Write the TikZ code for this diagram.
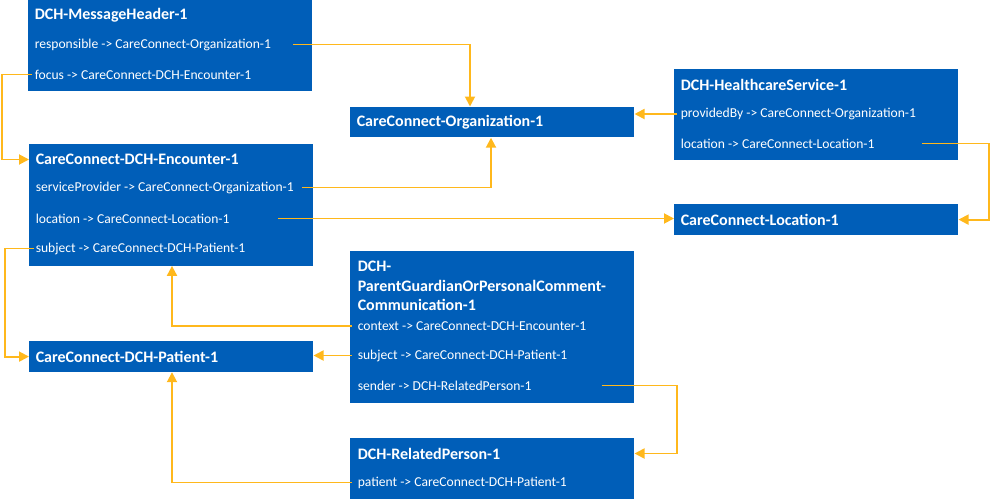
\documentclass[tikz,border=0pt]{standalone}
\usepackage{fontspec}
\setmainfont{Carlito}
\usetikzlibrary{arrows.meta,calc}
\definecolor{nhsblue}{HTML}{005EB8}
\definecolor{linkc}{HTML}{FFB81C}
\begin{document}
\begin{tikzpicture}[x=0.75pt,y=-0.75pt,
  box/.style={fill=nhsblue, draw=none, anchor=north west, inner sep=0pt, minimum width=213pt},
  ttl/.style={anchor=west, text=white, font=\fontsize{12}{14}\selectfont\bfseries, inner xsep=0pt, inner ysep=1.5pt},
  row/.style={anchor=west, text=white, font=\fontsize{10.2}{12}\selectfont, inner xsep=0pt, inner ysep=1.5pt},
  link/.style={draw=linkc, line width=1.4pt, -{Triangle[length=7.5pt,width=7.5pt]}}]
\useasboundingbox (0,0) rectangle (993,500);
% boxes
\node[box, minimum height=68.25pt] (mh) at (28,0) {};
\node[box, minimum height=23pt] (org) at (350,106.5) {};
\node[box, minimum height=68.25pt] (hs) at (674,69) {};
\node[box, minimum height=91pt] (enc) at (29,144) {};
\node[box, minimum height=23pt] (loc) at (674,204) {};
\node[box, minimum height=114pt] (com) at (350,250.5) {};
\node[box, minimum height=23pt] (pat) at (29,341) {};
\node[box, minimum height=45.75pt] (rp) at (350,437.5) {};
% texts
\node[ttl] (mh-t) at (34.5,15) {DCH-MessageHeader-1};
\node[row] (mh-r1) at (34.5,44.5) {responsible -> CareConnect-Organization-1};
\node[row] (mh-r2) at (34.5,74.5) {focus -> CareConnect-DCH-Encounter-1};
\node[ttl] (org-t) at (356.5,122) {CareConnect-Organization-1};
\node[ttl] (hs-t) at (680.5,85) {DCH-HealthcareService-1};
\node[row] (hs-r1) at (680.5,114) {providedBy -> CareConnect-Organization-1};
\node[row] (hs-r2) at (680.5,143.5) {location -> CareConnect-Location-1};
\node[ttl] (enc-t) at (35.5,159.5) {CareConnect-DCH-Encounter-1};
\node[row] (enc-r1) at (35.5,187.5) {serviceProvider -> CareConnect-Organization-1};
\node[row] (enc-r2) at (35.5,218.5) {location -> CareConnect-Location-1};
\node[row] (enc-r3) at (35.5,248.5) {subject -> CareConnect-DCH-Patient-1};
\node[ttl] (loc-t) at (680.5,219.5) {CareConnect-Location-1};
\node[ttl] (com-t1) at (357.5,266.5) {DCH-};
\node[ttl] (com-t2) at (357.5,285.5) {ParentGuardianOrPersonalComment-};
\node[ttl] (com-t3) at (357.5,304.5) {Communication-1};
\node[row] (com-r1) at (357.5,326) {context -> CareConnect-DCH-Encounter-1};
\node[row] (com-r2) at (357.5,355.5) {subject -> CareConnect-DCH-Patient-1};
\node[row] (com-r3) at (357.5,385.5) {sender -> DCH-RelatedPerson-1};
\node[ttl] (pat-t) at (35.5,357) {CareConnect-DCH-Patient-1};
\node[ttl] (rp-t) at (357.5,453.5) {DCH-RelatedPerson-1};
\node[row] (rp-r1) at (357.5,482.5) {patient -> CareConnect-DCH-Patient-1};
% line start points
\coordinate (s1) at ($(mh-r1.east)+(22,0)$);
\coordinate (s2) at ($(mh-r2.west)+(-3,0)$);
\coordinate (s3) at ($(enc-r1.east)+(8,0)$);
\coordinate (s4) at ($(enc-r2.east)+(48,0)$);
\coordinate (s5) at ($(enc-r3.west)+(-2,0)$);
\coordinate (s6) at ($(hs-r1.west)+(-4,0)$);
\coordinate (s7) at ($(hs-r2.east)+(47,0)$);
\coordinate (s8) at ($(com-r1.west)+(-6,0)$);
\coordinate (s9) at ($(com-r2.west)+(-6,0)$);
\coordinate (s10) at ($(com-r3.east)+(70,0)$);
\coordinate (s11) at ($(rp-r1.west)+(-6,0)$);
% bend coordinates
\coordinate (b1) at (470,0);
\coordinate (b2) at (2,0);
\coordinate (b3) at (491,0);
\coordinate (b5) at (5,0);
\coordinate (b7) at (989,0);
\coordinate (b8) at (172,0);
\coordinate (b10) at (677,0);
% connectors
\draw[link] (s1) -| (b1 |- org.north);
\draw[link] (s2) -- (s2 -| b2) |- (enc.west |- enc-t);
\draw[link] (s3) -| (b3 |- org.south);
\draw[link] (s4) -- (loc.west |- s4);
\draw[link] (s5) -- (s5 -| b5) |- (pat.west);
\draw[link] (s6) -- (org.east |- s6);
\draw[link] (s7) -- (s7 -| b7) |- (loc.east);
\draw[link] (s8) -| (b8 |- enc.south);
\draw[link] (s9) -- (pat.east |- s9);
\draw[link] (s10) -- (s10 -| b10) |- (rp.east |- rp-t);
\draw[link] (s11) -| (b8 |- pat.south);
\end{tikzpicture}
\end{document}
